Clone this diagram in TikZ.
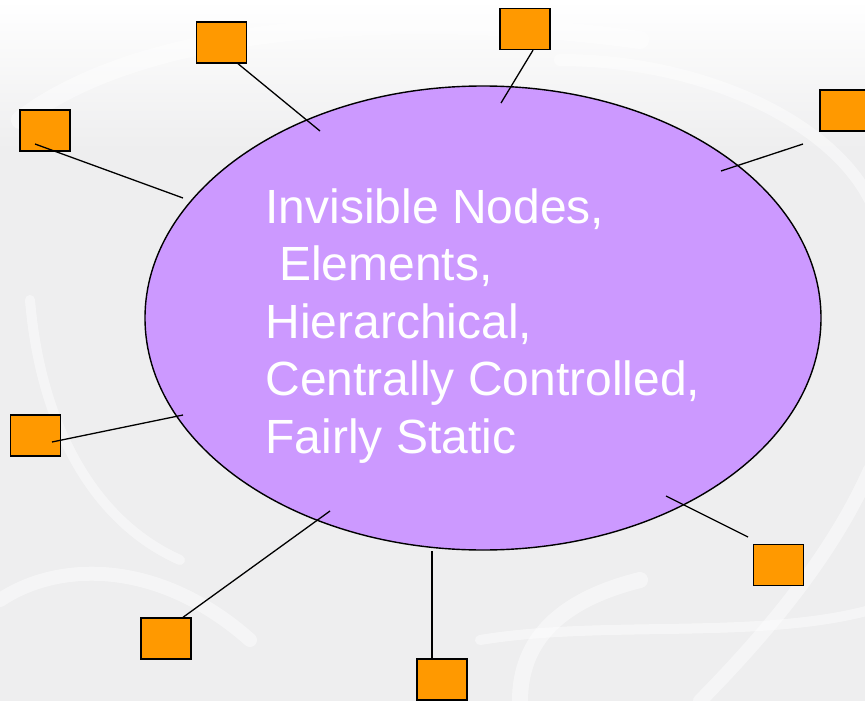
\documentclass[tikz,border=0pt]{standalone}
\usepackage{fontspec}
\setmainfont{Liberation Sans}
\usetikzlibrary{shapes.geometric}
\definecolor{hubpurple}{HTML}{CC99FF}
\definecolor{boxorange}{HTML}{FF9900}
\definecolor{backgray}{HTML}{EEEEEF}

\begin{document}
\begin{tikzpicture}[x=1pt, y=-1pt,
    hub/.style={ellipse, draw, line width=1.4pt, fill=hubpurple,
        minimum width=676pt, minimum height=464pt, inner sep=0pt},
    caption/.style={text=white, align=left, inner sep=0pt,
        font=\fontsize{48}{57.5}\selectfont},
    unit/.style={rectangle, draw, line width=1.4pt, fill=boxorange,
        minimum width=50pt, minimum height=41pt, inner sep=0pt},
    link/.style={line width=1.3pt},
    swirl/.style={white, opacity=0.45, line cap=round}]
    \useasboundingbox (0,0) rectangle (865,701);
    \fill [backgray] (0,0) rectangle (865,701);
    \shade [top color=white, bottom color=backgray] (0,0) rectangle (865,150);
    \draw [swirl, line width=18pt] (20,120) .. controls (150,20) and (420,10) .. (640,40);
    \draw [swirl, line width=12pt] (560,60) .. controls (700,60) and (830,120) .. (870,200);
    \draw [swirl, line width=14pt] (0,600) .. controls (60,560) and (160,560) .. (250,640);
    \draw [swirl, line width=10pt] (30,300) .. controls (40,420) and (90,520) .. (180,560);
    \draw [swirl, line width=16pt] (520,701) .. controls (520,640) and (560,600) .. (640,580);
    \draw [swirl, line width=14pt] (700,701) .. controls (760,640) and (830,560) .. (870,470);
    \draw [swirl, line width=10pt] (480,640) .. controls (600,620) and (760,640) .. (870,610);

    \node [hub] (hub) at (483,318) {};
    \node [caption] (words) at (483,326) {Invisible Nodes,\\\hspace*{0.28em}Elements,\\Hierarchical,\\Centrally Controlled,\\Fairly Static};

    \node [unit] (n1) at (221.5,42.5) {};
    \node [unit] (n2) at (45,130.5) {};
    \node [unit] (n3) at (525,29) {};
    \node [unit] (n4) at (845,110.5) {};
    \node [unit] (n5) at (35.5,435.5) {};
    \node [unit] (n6) at (166,638.5) {};
    \node [unit] (n7) at (442,679.5) {};
    \node [unit] (n8) at (778.5,565) {};

    \coordinate (e1) at (320,131);
    \coordinate (e2) at (183,198);
    \coordinate (e3) at (501,103);
    \coordinate (e4) at (721,171);
    \coordinate (e5) at (183,415);
    \coordinate (e6) at (330,511);
    \coordinate (e7) at (432,551);
    \coordinate (e8) at (666,496);

    \draw [link] ([xshift=16.5pt]n1.south) -- (e1);
    \draw [link] ([shift={(-10,13.5)}]n2.center) -- (e2);
    \draw [link] ([xshift=8pt]n3.south) -- (e3);
    \draw [link] ([shift={(-42,33.5)}]n4.center) -- (e4);
    \draw [link] ([shift={(16.5,6.5)}]n5.center) -- (e5);
    \draw [link] ([xshift=17pt]n6.north) -- (e6);
    \draw [link] ([xshift=-10pt]n7.north) -- (e7);
    \draw [link] ([shift={(-30.5,-28)}]n8.center) -- (e8);
\end{tikzpicture}
\end{document}
